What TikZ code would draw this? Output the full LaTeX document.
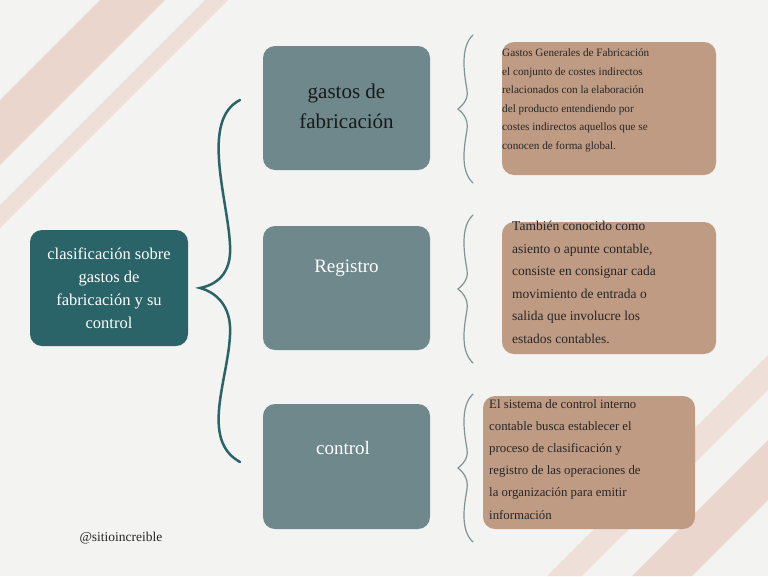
\documentclass[tikz,border=0pt]{standalone}
\usepackage{fontspec}
\setmainfont{Liberation Serif}
\begin{document}
\begin{tikzpicture}[x=1pt,y=-1pt,
  bigbox/.style={fill=#1,rounded corners=12pt,draw=none},
  lbl/.style={align=center,text=white,font=\fontsize{19}{24}\selectfont},
  desc/.style={align=left,text=black!85,font=\fontsize{12.5}{21}\selectfont,anchor=north west,inner sep=0pt},
  brace/.style={draw=#1,line width=1.2pt,line cap=round}]
\definecolor{bg}{HTML}{F3F3F2}
\definecolor{teal}{HTML}{2A6368}
\definecolor{slate}{HTML}{6F888C}
\definecolor{tan}{HTML}{BF9B84}
\definecolor{pinkA}{HTML}{EBD6CD}
\definecolor{pinkB}{HTML}{EEDFD9}
\fill[bg] (0,0) rectangle (768,576);
\useasboundingbox (0,0) rectangle (768,576);
\fill[pinkA] (0,100)--(100,0)--(165,0)--(0,165)--cycle;
\fill[pinkB] (0,205)--(205,0)--(228,0)--(0,228)--cycle;
\fill[pinkB] (768,355)--(768,390)--(582,576)--(547,576)--cycle;
\fill[pinkA] (768,440)--(768,500)--(692,576)--(632,576)--cycle;
% boxes
\node[bigbox=teal,minimum width=158,minimum height=116] (root) at (109,288) {};
\node[lbl,font=\fontsize{16.5}{23}\selectfont] at (root) {clasificación sobre\\gastos de\\fabricación y su\\control};
\node[bigbox=slate,minimum width=167,minimum height=124] (g) at (346.5,108) {};
\node[lbl,text=black!90,font=\fontsize{21}{30}\selectfont] at (346.5,106) {gastos de\\fabricación};
\node[bigbox=slate,minimum width=167,minimum height=124] (r) at (346.5,288) {};
\node[lbl] at (346.5,268) {Registro};
\node[bigbox=slate,minimum width=167,minimum height=125] (c) at (346.5,466.5) {};
\node[lbl] at (343,448) {control};
\node[bigbox=tan,minimum width=214,minimum height=133] (d1) at (609,108.5) {};
\node[bigbox=tan,minimum width=214,minimum height=132] (d2) at (609,288) {};
\node[bigbox=tan,minimum width=212,minimum height=133] (d3) at (589,462.5) {};
\node[desc,font=\fontsize{11.2}{18.5}\selectfont] at (502,49) {Gastos Generales de Fabricación\\el conjunto de costes indirectos\\relacionados con la elaboración\\del producto entendiendo por\\costes indirectos aquellos que se\\conocen de forma global.};
\node[desc,font=\fontsize{13.5}{22.5}\selectfont] at (512,221) {También conocido como\\asiento o apunte contable,\\consiste en consignar cada\\movimiento de entrada o\\salida que involucre los\\estados contables.};
\node[desc,font=\fontsize{12.8}{22.2}\selectfont] at (489,399) {El sistema de control interno\\contable busca establecer el\\proceso de clasificación y\\registro de las operaciones de\\la organización para emitir\\información};
\node[font=\fontsize{13.5}{16}\selectfont,text=black!85] (w) at (121,538) {@sitioincreible};
% big brace
\coordinate (bt) at (240,100);
\coordinate (bm) at (200,288);
\coordinate (bb) at (240,462);
\draw[brace=teal,line width=2.5pt] (bt) .. controls (200,120) and (228,200) .. (230,245) .. controls (232,275) and (215,285) .. (bm) .. controls (215,292) and (232,305) .. (230,335) .. controls (228,380) and (200,440) .. (bb);
% small braces
\foreach \y/\n in {35/a,215/b,394/c}{
  \draw[brace=slate!90] (473,\y) .. controls (460,\y+12) and (464,\y+38) .. (467,\y+55) .. controls (469,\y+66) and (460,\y+72) .. (458,\y+74) .. controls (460,\y+76) and (469,\y+82) .. (467,\y+95) .. controls (464,\y+112) and (460,\y+136) .. (473,\y+148);
}
\end{tikzpicture}
\end{document}
